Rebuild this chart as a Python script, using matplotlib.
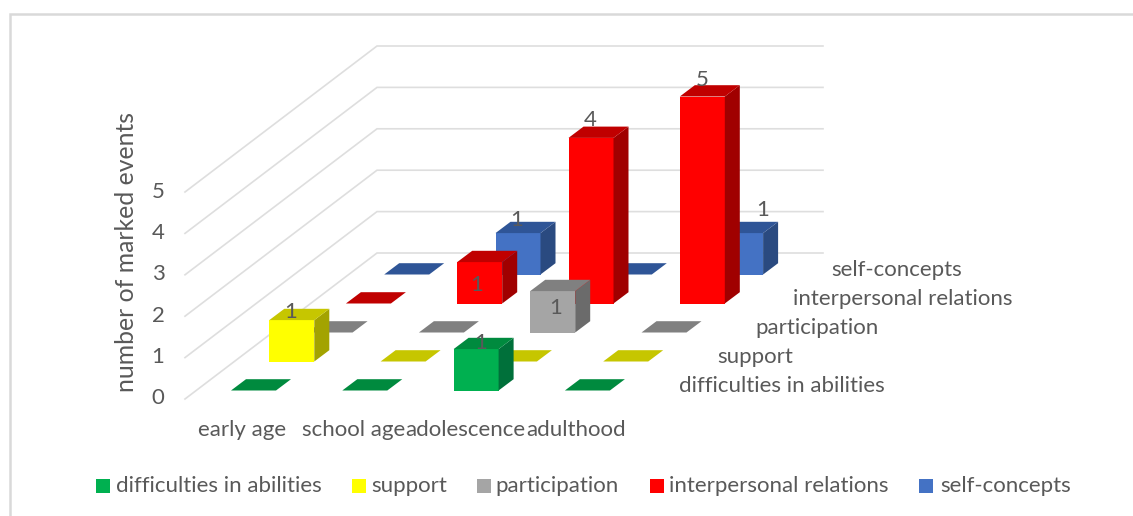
import numpy as np
import matplotlib
matplotlib.use('Agg')
import matplotlib.pyplot as plt
from matplotlib.patches import Polygon, Rectangle

plt.rcParams['font.family'] = ['Lato', 'DejaVu Sans']

categories = ['early age', 'school age', 'adolescence', 'adulthood']
series_names = ['difficulties in abilities', 'support', 'participation',
                'interpersonal relations', 'self-concepts']
difficulties = [0, 0, 1, 0]
support = [1, 0, 0, 0]
participation = [0, 0, 1, 0]
interpersonal = [0, 1, 4, 5]
self_concepts = [0, 1, 0, 1]
value_ticks = [0, 1, 2, 3, 4, 5]

# front, top, side shade of each series
COLORS = [('#00B050', '#008A3E', '#00703A'),
          ('#FFFF00', '#C6C600', '#A3A300'),
          ('#A5A5A5', '#808080', '#6B6B6B'),
          ('#FF0000', '#C00000', '#A00000'),
          ('#4472C4', '#2F5597', '#2A4A80')]
TEXT = '#595959'
GRID = '#DEDEDE'
FONT = 16

# oblique projection, everything below is in image pixels
X0, Y0 = 231.0, 390.5
CAT_DX = 111.3
SER_DX, SER_DY = 38.3, 29.0
UNIT = 41.4
BAR_W = 45.0
DEPTH_X, DEPTH_Y = 15.0, 11.3

# nudges of the value labels from the top front edge of their bar
LABEL_NUDGE = {(0, 1): (-1, -8), (2, 0): (5, -6), (1, 3): (-3, 23),
               (1, 4): (-1, -13), (2, 2): (3, 17), (2, 3): (-1, -18),
               (3, 3): (-0.5, -16), (3, 4): (22, -23)}


def project(cat, ser, val):
    x = X0 + CAT_DX * cat + SER_DX * ser
    y = Y0 - SER_DY * ser - UNIT * val
    return x, y


def draw_bar(ax, cat, ser, val):
    front, top, side = COLORS[ser]
    x, y0 = project(cat, ser, 0)
    y1 = y0 - UNIT * val
    w, dx, dy = BAR_W, DEPTH_X, DEPTH_Y
    if val > 0:
        ax.add_patch(Polygon([(x, y0), (x + w, y0), (x + w, y1), (x, y1)],
                             fc=front, ec='none', zorder=3))
        ax.add_patch(Polygon([(x + w, y0), (x + w + dx, y0 - dy),
                              (x + w + dx, y1 - dy), (x + w, y1)],
                             fc=side, ec='none', zorder=3))
    ax.add_patch(Polygon([(x, y1), (x + w, y1), (x + w + dx, y1 - dy),
                          (x + dx, y1 - dy)], fc=top, ec='none', zorder=3))


fig = plt.figure(figsize=(11.33, 5.16), dpi=100)
ax = fig.add_axes((0, 0, 1, 1))
ax.set_xlim(0, 1133)
ax.set_ylim(516, 0)
ax.axis('off')

# chart frame, only the top and left edges fall inside the image
ax.plot([9.5, 9.5, 1133], [516, 13.5, 13.5], color='#D9D9D9', lw=1.8,
        solid_joinstyle='miter', zorder=1)

# gridlines on the side wall and back wall
for v in value_ticks:
    y_front = 399 - UNIT * v
    y_back = 253 - UNIT * v
    ax.plot([185, 377, 823], [y_front, y_back, y_back], color=GRID, lw=1.2,
            zorder=1, solid_joinstyle='miter')
    ax.text(158, y_front - 0.5, str(v), color=TEXT, fontsize=FONT, ha='center',
            va='center')

ax.text(127, 252, 'number of marked events', color=TEXT, fontsize=17.8,
        rotation=90, ha='center', va='center')

all_series = [difficulties, support, participation, interpersonal, self_concepts]

# back row first so nearer bars cover the ones behind
for s in range(len(all_series) - 1, -1, -1):
    for c in range(len(categories)):
        draw_bar(ax, c, s, all_series[s][c])

for s, vals in enumerate(all_series):
    for c, v in enumerate(vals):
        if v > 0:
            x, y = project(c, s, v)
            nx, ny = LABEL_NUDGE[(c, s)]
            ax.text(x + BAR_W / 2 + nx, y + ny, str(v), color=TEXT,
                    fontsize=FONT, ha='center', va='center', zorder=5)

# category labels under the floor
for name, x in zip(categories, [198, 302, 405, 526]):
    ax.text(x, 430, name, color=TEXT, fontsize=FONT, ha='left', va='center')

# series labels run up the right side
for s, name in enumerate(series_names):
    ax.text(679 + 38 * s, 385.5 - 28.9 * s, name, color=TEXT, fontsize=FONT,
            ha='left', va='center')

# legend
for s, (name, sx, tx) in enumerate(zip(series_names,
                                       [96, 352, 477, 650, 919],
                                       [116, 371, 495, 669, 940])):
    ax.add_patch(Rectangle((sx, 479), 14, 14, fc=COLORS[s][0], ec='none'))
    ax.text(tx, 486, name, color=TEXT, fontsize=FONT, ha='left', va='center')

fig.savefig('out.png', dpi=100)
